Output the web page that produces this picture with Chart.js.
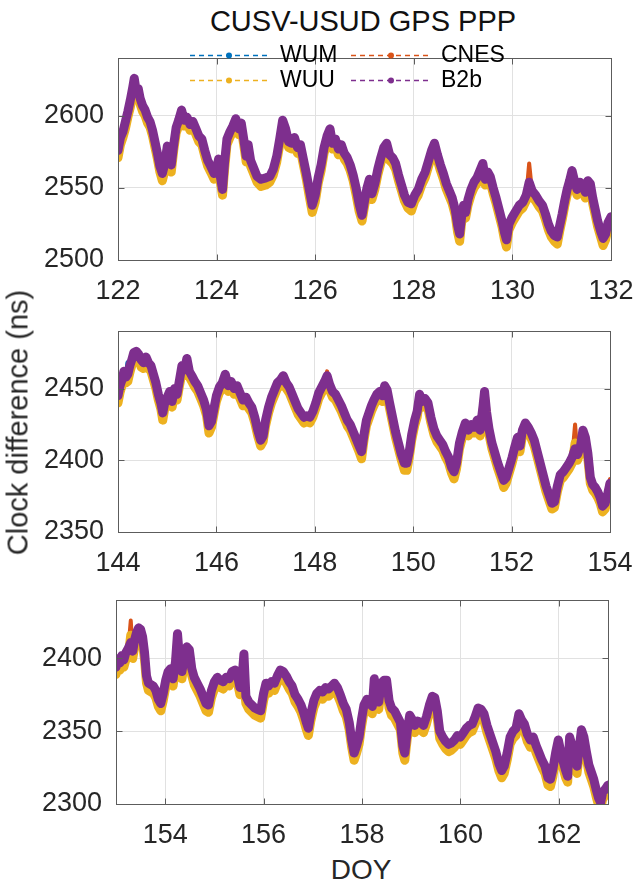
<!DOCTYPE html>
<html><head><meta charset="utf-8">
<script src="https://cdn.jsdelivr.net/npm/chart.js@4.4.1/dist/chart.umd.min.js"></script>
<style>
html,body{margin:0;padding:0;background:#fff;}
#wrap{position:relative;width:633px;height:882px;overflow:hidden;background:#fff;font-family:"Liberation Sans",Arial,Helvetica,sans-serif;color:#1a1a1a;}
canvas{position:absolute;left:0;}
#title{position:absolute;left:113px;width:500px;top:7px;text-align:center;font-size:29px;line-height:29px;white-space:nowrap;color:#111;}
#xlab{position:absolute;left:261px;width:200px;top:856px;text-align:center;font-size:28px;line-height:28px;color:#262626;}
#ylab{position:absolute;width:320px;height:29px;line-height:29px;font-size:29px;text-align:center;white-space:nowrap;color:#262626;
 left:calc(18px - 160px);top:calc(422px - 14.5px);transform:rotate(-90deg);}
</style></head>
<body>
<div id="wrap">
<div id="title">CUSV-USUD GPS PPP</div>
<canvas id="c1"></canvas>
<canvas id="c2"></canvas>
<canvas id="c3"></canvas>
<div id="ylab">Clock difference (ns)</div>
<div id="xlab">DOY</div>
</div>
<script>
// ---------------- DATA ----------------
const seriesNames = ['WUM','CNES','WUU','B2b'];
const seriesColors = ['#0072BD','#D95319','#EDB120','#7E2F8E'];

// Panel 1 : DOY 122-132
const xTicks1 = [122,124,126,128,130,132];
const yTicks1 = [2500,2550,2600];
const doy1 = [122.00,122.05,122.10,122.15,122.20,122.25,122.30,122.33,122.37,122.41,
122.45,122.50,122.55,122.60,122.65,122.70,122.75,122.80,122.85,122.90,
122.95,123.00,123.04,123.08,123.13,123.18,123.23,123.29,123.34,123.40,
123.46,123.52,123.58,123.64,123.70,123.76,123.82,123.88,123.95,124.00,
124.04,124.08,124.12,124.16,124.21,124.27,124.33,124.39,124.45,124.50,
124.55,124.60,124.64,124.69,124.75,124.82,124.90,125.00,125.08,125.15,
125.22,125.28,125.34,125.40,125.46,125.52,125.58,125.64,125.70,125.76,
125.82,125.88,125.94,126.00,126.06,126.12,126.18,126.24,126.30,126.35,
126.41,126.47,126.53,126.59,126.65,126.71,126.77,126.83,126.89,126.95,
127.00,127.05,127.10,127.15,127.21,127.27,127.33,127.39,127.45,127.51,
127.57,127.63,127.69,127.75,127.81,127.88,127.95,128.02,128.09,128.16,
128.23,128.30,128.36,128.42,128.48,128.54,128.60,128.66,128.72,128.78,
128.84,128.89,128.93,128.97,129.01,129.05,129.10,129.16,129.22,129.28,
129.34,129.40,129.45,129.50,129.55,129.61,129.67,129.73,129.79,129.84,
129.88,129.93,130.00,130.07,130.14,130.21,130.28,130.34,130.40,130.47,
130.54,130.61,130.67,130.73,130.79,130.85,130.91,130.96,131.01,131.06,
131.11,131.16,131.21,131.26,131.31,131.37,131.43,131.48,131.53,131.58,
131.63,131.68,131.73,131.79,131.84,131.89,131.94,132.00];
const b2b1 = [2576,2585,2589,2596,2603,2611,2620,2626,2617,2619,
2612,2607,2604,2599,2596,2590,2582,2574,2565,2560,
2567,2579,2571,2566,2580,2592,2597,2604,2597,2599,
2594,2596,2591,2586,2584,2576,2569,2565,2560,2563,
2570,2557,2549,2567,2584,2589,2593,2598,2591,2595,
2584,2572,2580,2569,2564,2558,2556,2557,2558,2563,
2572,2584,2597,2591,2582,2581,2585,2578,2580,2570,
2560,2549,2538,2545,2557,2566,2578,2586,2591,2581,
2584,2577,2580,2574,2571,2566,2559,2550,2539,2531,
2541,2550,2556,2546,2553,2563,2571,2578,2581,2573,
2571,2567,2559,2552,2545,2540,2539,2545,2549,2556,
2561,2569,2576,2581,2573,2566,2560,2553,2548,2543,
2535,2524,2518,2530,2538,2533,2542,2549,2554,2557,
2562,2567,2556,2561,2558,2550,2543,2535,2527,2519,
2514,2525,2530,2534,2538,2540,2545,2554,2548,2545,
2541,2538,2532,2525,2520,2517,2516,2524,2532,2541,
2549,2555,2562,2555,2549,2554,2551,2547,2555,2553,
2543,2535,2527,2520,2515,2518,2526,2530];
const wuu1 = [2571,2580,2585,2591,2599,2606,2615,2620,2612,2614,
2608,2603,2600,2595,2592,2586,2578,2570,2561,2555,
2562,2575,2567,2561,2576,2588,2593,2599,2593,2595,
2590,2592,2587,2582,2580,2572,2565,2561,2556,2558,
2565,2553,2545,2562,2580,2585,2589,2593,2587,2591,
2580,2568,2576,2565,2560,2554,2551,2552,2554,2559,
2568,2580,2592,2587,2578,2577,2581,2574,2576,2566,
2556,2544,2533,2540,2553,2562,2574,2582,2587,2577,
2580,2573,2576,2570,2567,2562,2555,2545,2534,2527,
2537,2546,2552,2542,2549,2559,2567,2574,2577,2569,
2567,2563,2555,2548,2541,2536,2534,2541,2545,2552,
2557,2565,2572,2577,2569,2562,2556,2549,2544,2539,
2531,2519,2513,2526,2534,2529,2538,2545,2550,2553,
2558,2563,2552,2557,2554,2546,2539,2531,2523,2514,
2509,2521,2526,2530,2534,2536,2541,2550,2544,2541,
2537,2534,2528,2521,2516,2513,2511,2520,2528,2537,
2545,2551,2558,2551,2545,2550,2547,2543,2551,2549,
2539,2531,2523,2516,2510,2514,2522,2526];
const wum1 = [2574,2583,2587,2594,2601,2609,2618,2624,2615,2617,
2610,2605,2602,2597,2594,2588,2580,2572,2563,2558,
2565,2577,2569,2564,2578,2590,2595,2602,2595,2597,
2592,2594,2589,2584,2582,2574,2567,2563,2558,2561,
2568,2555,2547,2565,2582,2587,2591,2596,2589,2593,
2582,2570,2578,2567,2562,2556,2554,2555,2556,2561,
2570,2582,2595,2589,2580,2579,2583,2576,2578,2568,
2558,2547,2536,2543,2555,2564,2576,2584,2589,2579,
2582,2575,2578,2572,2569,2564,2557,2548,2537,2529,
2539,2548,2554,2544,2551,2561,2569,2576,2579,2571,
2569,2565,2557,2550,2543,2538,2537,2543,2547,2554,
2559,2567,2574,2579,2571,2564,2558,2551,2546,2541,
2533,2522,2516,2528,2536,2531,2540,2547,2552,2555,
2560,2565,2554,2559,2556,2548,2541,2533,2525,2517,
2512,2523,2528,2532,2536,2538,2543,2552,2546,2543,
2539,2536,2530,2523,2518,2515,2514,2522,2530,2539,
2547,2553,2560,2553,2547,2552,2549,2545,2553,2551,
2541,2533,2525,2518,2513,2516,2524,2528];
const cnes1 = [2575,2584,2588,2595,2602,2610,2619,2625,2616,2618,
2611,2606,2603,2598,2595,2589,2581,2573,2564,2559,
2566,2578,2570,2565,2579,2591,2596,2603,2596,2598,
2593,2595,2590,2585,2583,2575,2568,2564,2559,2562,
2569,2556,2548,2566,2583,2588,2592,2597,2590,2594,
2583,2571,2579,2568,2563,2557,2555,2556,2557,2562,
2571,2583,2596,2590,2581,2580,2584,2577,2579,2569,
2559,2548,2537,2544,2556,2565,2577,2585,2590,2580,
2583,2576,2579,2573,2570,2565,2558,2549,2538,2530,
2540,2549,2555,2545,2552,2562,2570,2577,2580,2572,
2570,2566,2558,2551,2544,2539,2538,2544,2548,2555,
2560,2568,2575,2580,2572,2565,2559,2552,2547,2542,
2534,2523,2517,2529,2537,2532,2541,2548,2553,2556,
2561,2566,2555,2560,2557,2549,2542,2534,2526,2518,
2513,2524,2529,2533,2537,2539,2544,2567,2547,2544,
2540,2537,2531,2524,2519,2516,2515,2523,2531,2540,
2548,2554,2561,2554,2548,2553,2550,2546,2554,2552,
2542,2534,2526,2519,2514,2517,2525,2529];

// Panel 2 : DOY 144-154
const xTicks2 = [144,146,148,150,152,154];
const yTicks2 = [2350,2400,2450];
const doy2 = [144.00,144.04,144.08,144.12,144.16,144.20,144.24,144.28,144.32,144.37,
144.42,144.47,144.52,144.57,144.62,144.67,144.72,144.77,144.82,144.87,
144.91,144.95,145.00,145.05,145.10,145.15,145.20,145.25,145.30,145.35,
145.40,145.45,145.50,145.56,145.62,145.68,145.74,145.80,145.85,145.90,
145.95,146.00,146.06,146.12,146.18,146.24,146.30,146.36,146.42,146.48,
146.54,146.60,146.66,146.72,146.78,146.84,146.90,146.95,147.00,147.06,
147.12,147.18,147.24,147.30,147.36,147.42,147.48,147.54,147.60,147.66,
147.72,147.78,147.84,147.90,147.96,148.02,148.08,148.14,148.20,148.25,
148.30,148.36,148.42,148.48,148.54,148.60,148.66,148.72,148.78,148.84,
148.90,148.95,149.00,149.05,149.10,149.15,149.20,149.26,149.32,149.37,
149.42,149.47,149.52,149.58,149.64,149.70,149.76,149.82,149.87,149.92,
149.97,150.03,150.08,150.13,150.18,150.24,150.30,150.36,150.42,150.48,
150.54,150.60,150.66,150.72,150.78,150.83,150.88,150.94,151.00,151.06,
151.12,151.18,151.24,151.30,151.36,151.42,151.45,151.49,151.54,151.60,
151.66,151.72,151.78,151.84,151.89,151.95,152.01,152.07,152.12,152.17,
152.22,152.28,152.34,152.40,152.46,152.52,152.58,152.64,152.70,152.76,
152.82,152.87,152.93,152.99,153.05,153.11,153.17,153.23,153.29,153.34,
153.40,153.45,153.50,153.55,153.60,153.65,153.70,153.75,153.80,153.85,
153.90,153.95,154.00];
const b2b2 = [2445,2452,2456,2462,2458,2460,2466,2470,2475,2476,
2474,2470,2468,2472,2468,2466,2460,2454,2446,2440,
2433,2440,2444,2448,2441,2450,2446,2456,2466,2463,
2471,2462,2459,2455,2452,2447,2442,2435,2424,2427,
2436,2445,2451,2454,2460,2452,2455,2450,2452,2447,
2442,2444,2440,2437,2430,2421,2414,2417,2428,2437,
2444,2449,2454,2456,2459,2454,2451,2446,2441,2436,
2433,2430,2431,2430,2434,2440,2447,2451,2455,2459,
2453,2448,2446,2442,2438,2433,2428,2425,2420,2415,
2410,2406,2418,2428,2433,2438,2442,2446,2448,2445,
2452,2449,2440,2430,2420,2412,2404,2398,2398,2406,
2418,2428,2434,2446,2441,2443,2440,2430,2422,2417,
2414,2411,2406,2402,2395,2392,2398,2412,2420,2426,
2421,2425,2423,2428,2421,2438,2448,2434,2422,2412,
2405,2398,2392,2386,2388,2395,2402,2410,2416,2410,
2421,2426,2423,2419,2414,2406,2398,2390,2382,2376,
2370,2371,2382,2390,2392,2395,2398,2402,2408,2404,
2410,2421,2416,2405,2388,2383,2381,2378,2374,2368,
2370,2376,2384];
const wuu2 = [2440,2447,2452,2457,2454,2455,2461,2466,2470,2471,
2470,2465,2464,2467,2464,2462,2456,2450,2442,2436,
2428,2436,2440,2444,2437,2446,2442,2452,2461,2459,
2467,2458,2455,2451,2448,2443,2438,2431,2419,2423,
2432,2441,2447,2450,2456,2448,2451,2446,2448,2443,
2438,2440,2436,2433,2426,2417,2410,2413,2424,2433,
2440,2445,2450,2452,2455,2450,2447,2442,2437,2432,
2429,2426,2427,2426,2430,2436,2443,2447,2451,2455,
2449,2444,2442,2438,2434,2429,2424,2421,2416,2411,
2406,2401,2414,2424,2429,2434,2438,2442,2444,2441,
2448,2445,2436,2426,2416,2408,2400,2393,2393,2402,
2414,2424,2430,2442,2437,2439,2436,2426,2418,2413,
2410,2407,2402,2398,2391,2387,2394,2408,2416,2422,
2417,2421,2419,2424,2417,2434,2444,2430,2418,2408,
2401,2394,2388,2381,2384,2391,2398,2406,2412,2406,
2417,2422,2419,2415,2410,2402,2394,2386,2378,2372,
2366,2367,2378,2386,2388,2391,2394,2398,2412,2400,
2406,2417,2412,2401,2384,2379,2377,2374,2370,2364,
2366,2372,2383];
const wum2 = [2443,2450,2454,2460,2456,2468,2464,2468,2473,2474,
2472,2468,2466,2470,2466,2464,2458,2452,2444,2438,
2431,2438,2442,2446,2439,2448,2444,2454,2464,2461,
2469,2460,2457,2453,2450,2445,2440,2433,2422,2425,
2434,2443,2449,2452,2458,2450,2453,2448,2450,2445,
2440,2442,2438,2435,2428,2419,2412,2415,2426,2435,
2442,2447,2452,2454,2457,2452,2449,2444,2439,2434,
2431,2428,2429,2428,2432,2438,2445,2449,2453,2457,
2451,2446,2444,2440,2436,2431,2426,2423,2418,2413,
2408,2404,2416,2426,2431,2436,2440,2444,2446,2443,
2450,2447,2438,2428,2418,2410,2402,2396,2396,2404,
2416,2426,2432,2444,2439,2441,2438,2428,2420,2415,
2412,2409,2404,2400,2393,2390,2396,2410,2418,2424,
2419,2423,2421,2426,2419,2436,2446,2432,2420,2410,
2403,2396,2390,2384,2386,2393,2400,2408,2414,2408,
2419,2424,2421,2417,2412,2404,2396,2388,2380,2374,
2368,2369,2380,2388,2390,2393,2396,2400,2406,2402,
2408,2419,2414,2403,2386,2381,2379,2376,2372,2366,
2368,2374,2382];
const cnes2 = [2444,2451,2455,2461,2457,2465,2465,2469,2474,2475,
2473,2469,2467,2471,2467,2465,2459,2453,2445,2439,
2432,2439,2443,2447,2440,2449,2445,2455,2465,2462,
2470,2461,2458,2454,2451,2446,2441,2434,2423,2426,
2435,2444,2450,2453,2459,2451,2454,2449,2451,2446,
2441,2443,2439,2436,2429,2420,2413,2416,2427,2436,
2443,2448,2453,2455,2458,2453,2450,2445,2440,2435,
2432,2429,2430,2429,2433,2439,2446,2450,2456,2462,
2452,2447,2445,2441,2437,2432,2427,2424,2419,2414,
2409,2405,2417,2427,2432,2437,2441,2445,2447,2444,
2451,2448,2439,2429,2419,2411,2403,2397,2397,2405,
2417,2427,2433,2445,2440,2442,2439,2429,2421,2416,
2413,2410,2405,2401,2394,2391,2397,2411,2419,2425,
2420,2424,2422,2427,2420,2437,2447,2433,2421,2411,
2404,2397,2391,2385,2387,2394,2401,2409,2415,2409,
2420,2425,2422,2418,2413,2405,2397,2389,2381,2375,
2369,2370,2381,2389,2391,2394,2397,2401,2425,2403,
2409,2420,2415,2404,2387,2382,2380,2377,2373,2367,
2369,2377,2387];

// Panel 3 : DOY 153-163
const xTicks3 = [154,156,158,160,162];
const yTicks3 = [2300,2350,2400];
const doy3 = [153.00,153.04,153.08,153.12,153.16,153.20,153.25,153.30,153.34,153.38,
153.42,153.46,153.50,153.54,153.58,153.62,153.66,153.71,153.76,153.81,
153.86,153.91,153.96,154.01,154.06,154.11,154.16,154.21,154.25,154.29,
154.34,154.39,154.44,154.49,154.54,154.59,154.65,154.71,154.77,154.83,
154.88,154.94,155.00,155.06,155.12,155.18,155.24,155.30,155.36,155.42,
155.47,155.52,155.56,155.60,155.64,155.70,155.76,155.82,155.88,155.94,
156.00,156.05,156.10,156.16,156.22,156.28,156.34,156.40,156.46,156.52,
156.58,156.64,156.70,156.76,156.82,156.87,156.91,156.96,157.02,157.08,
157.14,157.20,157.26,157.32,157.38,157.44,157.50,157.56,157.62,157.68,
157.74,157.79,157.84,157.89,157.94,157.99,158.04,158.10,158.16,158.21,
158.25,158.29,158.34,158.39,158.45,158.50,158.55,158.60,158.66,158.72,
158.78,158.83,158.87,158.92,158.97,159.02,159.07,159.13,159.19,159.25,
159.31,159.37,159.43,159.48,159.53,159.58,159.64,159.70,159.76,159.82,
159.88,159.94,160.00,160.06,160.12,160.18,160.24,160.30,160.36,160.42,
160.48,160.54,160.60,160.66,160.72,160.78,160.84,160.89,160.95,161.01,
161.07,161.13,161.19,161.24,161.30,161.36,161.42,161.48,161.54,161.60,
161.66,161.72,161.78,161.83,161.88,161.94,161.99,162.04,162.09,162.14,
162.18,162.22,162.27,162.32,162.37,162.42,162.46,162.51,162.56,162.61,
162.66,162.71,162.76,162.81,162.85,162.89,162.94,163.00];
const b2b3 = [2394,2400,2397,2402,2399,2404,2407,2411,2405,2413,
2418,2421,2420,2415,2404,2388,2383,2382,2381,2378,
2372,2369,2376,2385,2391,2393,2386,2398,2417,2400,
2391,2401,2408,2406,2393,2387,2383,2379,2374,2369,
2368,2378,2384,2387,2385,2384,2387,2386,2391,2392,
2388,2380,2386,2403,2374,2370,2368,2366,2365,2364,
2376,2383,2381,2384,2383,2388,2392,2391,2388,2384,
2381,2375,2372,2368,2362,2356,2352,2362,2371,2376,
2378,2377,2380,2379,2381,2383,2380,2375,2369,2365,
2356,2344,2335,2340,2346,2358,2368,2372,2369,2367,
2386,2376,2370,2383,2385,2385,2371,2366,2364,2360,
2356,2340,2335,2350,2361,2358,2354,2357,2356,2354,
2360,2368,2374,2373,2364,2350,2346,2343,2341,2342,
2344,2347,2346,2349,2352,2354,2355,2360,2366,2365,
2362,2354,2348,2342,2336,2328,2323,2326,2335,2346,
2350,2352,2362,2358,2355,2348,2344,2346,2340,2335,
2330,2326,2318,2317,2324,2336,2344,2336,2329,2323,
2319,2346,2340,2333,2326,2340,2351,2346,2336,2327,
2322,2317,2310,2304,2301,2308,2310,2313];
const wuu3 = [2389,2395,2392,2397,2394,2399,2402,2416,2400,2408,
2413,2416,2415,2410,2399,2383,2378,2377,2376,2373,
2367,2364,2371,2380,2386,2388,2381,2393,2410,2395,
2386,2396,2403,2401,2388,2382,2378,2374,2369,2364,
2363,2373,2379,2382,2380,2379,2382,2381,2386,2387,
2383,2375,2381,2382,2369,2365,2363,2361,2360,2359,
2371,2378,2376,2379,2378,2383,2387,2386,2383,2379,
2376,2370,2367,2363,2357,2351,2347,2357,2366,2371,
2373,2372,2375,2374,2376,2378,2375,2370,2364,2360,
2351,2339,2330,2335,2341,2353,2363,2367,2364,2362,
2379,2371,2365,2378,2380,2380,2366,2361,2359,2355,
2351,2335,2330,2345,2356,2353,2349,2352,2351,2349,
2355,2363,2369,2368,2359,2345,2341,2338,2336,2337,
2339,2342,2341,2344,2347,2349,2350,2355,2361,2360,
2357,2349,2343,2337,2331,2323,2318,2321,2330,2341,
2345,2347,2357,2353,2350,2343,2339,2341,2335,2330,
2325,2321,2313,2312,2319,2331,2339,2331,2324,2318,
2315,2341,2335,2328,2321,2335,2346,2341,2331,2322,
2317,2312,2305,2299,2297,2303,2306,2309];
const wum3 = [2392,2398,2395,2400,2397,2402,2405,2409,2403,2411,
2416,2419,2418,2413,2402,2386,2381,2380,2379,2376,
2370,2367,2374,2383,2389,2391,2384,2396,2415,2398,
2389,2399,2406,2404,2391,2385,2381,2377,2372,2367,
2366,2376,2382,2385,2383,2382,2385,2384,2389,2390,
2386,2378,2384,2384,2372,2368,2366,2364,2363,2362,
2374,2381,2379,2382,2381,2386,2390,2389,2386,2382,
2379,2373,2370,2366,2360,2354,2350,2360,2369,2374,
2376,2375,2378,2377,2379,2381,2378,2373,2367,2363,
2354,2342,2333,2338,2344,2356,2366,2370,2367,2365,
2384,2374,2368,2381,2383,2383,2369,2364,2362,2358,
2354,2338,2333,2348,2359,2356,2352,2355,2354,2352,
2358,2366,2372,2371,2362,2348,2344,2341,2339,2340,
2342,2345,2344,2347,2350,2352,2353,2358,2364,2363,
2360,2352,2346,2340,2334,2326,2321,2324,2333,2344,
2348,2350,2360,2356,2353,2346,2342,2344,2338,2333,
2328,2324,2316,2315,2322,2334,2342,2334,2327,2321,
2317,2344,2338,2331,2324,2338,2349,2344,2334,2325,
2320,2315,2308,2302,2299,2306,2308,2311];
const cnes3 = [2393,2399,2396,2401,2398,2403,2406,2426,2404,2412,
2417,2420,2419,2414,2403,2387,2382,2381,2380,2377,
2371,2368,2375,2384,2390,2392,2385,2397,2416,2399,
2390,2400,2407,2405,2392,2386,2382,2378,2373,2368,
2367,2377,2383,2386,2384,2383,2386,2385,2390,2391,
2387,2379,2385,2385,2373,2369,2367,2365,2364,2363,
2375,2382,2380,2383,2382,2387,2391,2390,2387,2383,
2380,2374,2371,2367,2361,2355,2351,2361,2370,2375,
2377,2376,2379,2378,2380,2382,2379,2374,2368,2364,
2355,2343,2334,2339,2345,2357,2367,2371,2368,2366,
2385,2375,2369,2382,2384,2384,2370,2365,2363,2359,
2355,2339,2334,2349,2360,2357,2353,2356,2355,2353,
2359,2367,2373,2372,2363,2349,2345,2342,2340,2341,
2343,2346,2345,2348,2351,2353,2354,2359,2365,2364,
2361,2353,2347,2341,2335,2327,2320,2325,2334,2345,
2349,2351,2361,2357,2354,2347,2343,2345,2339,2334,
2329,2325,2317,2316,2323,2335,2343,2335,2328,2322,
2318,2345,2339,2332,2322,2339,2350,2345,2335,2326,
2321,2316,2309,2303,2300,2307,2309,2312];

// ---------------- CHARTS ----------------
Chart.defaults.font.family = "'Liberation Sans', Arial, Helvetica, sans-serif";
const CW = 680; // canvas wider than the page, clipped by #wrap

const boxPlugin = {
  id: 'axbox',
  afterDraw(chart) {
    const {ctx, chartArea: a, scales} = chart;
    ctx.save();
    ctx.strokeStyle = '#5c5c5c';
    ctx.lineWidth = 1;
    const l = Math.round(a.left) + 0.5, r = Math.round(a.right) + 0.5;
    const t = Math.round(a.top) + 0.5, b = Math.round(a.bottom) + 0.5;
    ctx.strokeRect(l, t, r - l, b - t);
    ctx.beginPath();
    scales.x.ticks.forEach(tk => {
      const px = Math.round(scales.x.getPixelForValue(tk.value)) + 0.5;
      ctx.moveTo(px, b); ctx.lineTo(px, b - 6);
      ctx.moveTo(px, t); ctx.lineTo(px, t + 6);
    });
    scales.y.ticks.forEach(tk => {
      const py = Math.round(scales.y.getPixelForValue(tk.value)) + 0.5;
      ctx.moveTo(l, py); ctx.lineTo(l + 6, py);
      ctx.moveTo(r, py); ctx.lineTo(r - 6, py);
    });
    ctx.stroke();
    ctx.restore();
  }
};

const legendPlugin = {
  id: 'inlegend',
  afterDraw(chart) {
    const ctx = chart.ctx;
    const items = [
      {i: 0, x0: 190, x1: 268, tx: 280, y: 27},
      {i: 1, x0: 351, x1: 431, tx: 441, y: 27},
      {i: 2, x0: 190, x1: 268, tx: 280, y: 52},
      {i: 3, x0: 351, x1: 431, tx: 441, y: 52}
    ];
    ctx.save();
    items.forEach(it => {
      const col = seriesColors[it.i];
      ctx.strokeStyle = col; ctx.fillStyle = col;
      ctx.lineWidth = 1.6;
      ctx.setLineDash([5, 4]);
      ctx.beginPath(); ctx.moveTo(it.x0, it.y + 0.5); ctx.lineTo(it.x1, it.y + 0.5); ctx.stroke();
      ctx.setLineDash([]);
      ctx.beginPath(); ctx.arc((it.x0 + it.x1) / 2, it.y + 0.5, 3, 0, Math.PI * 2); ctx.fill();
      ctx.fillStyle = '#000';
      ctx.font = "23px 'Liberation Sans', Arial, sans-serif";
      ctx.textBaseline = 'middle';
      ctx.textAlign = 'left';
      ctx.fillText(seriesNames[it.i], it.tx, it.y + 1);
    });
    ctx.restore();
  }
};

function toPts(xs, ys) { return xs.map((x, i) => ({x: x, y: ys[i]})); }

function makePanel(id, T, B, L, R, xs, sets, xr, yr, xt, yt, legend) {
  const cv = document.getElementById(id);
  const padTop = 12, xAxisH = 48;
  const H = (B - T) + padTop + xAxisH;
  cv.width = CW; cv.height = H;
  cv.style.width = CW + 'px'; cv.style.height = H + 'px';
  cv.style.top = (T - padTop) + 'px';
  const widths = [5, 4, 9, 9];
  const orders = [3, 2, 1, 0];
  const datasets = sets.map((ys, k) => ({
    label: seriesNames[k],
    data: toPts(xs, ys),
    borderColor: seriesColors[k],
    backgroundColor: seriesColors[k],
    borderWidth: widths[k],
    pointRadius: 0,
    tension: 0,
    borderJoinStyle: 'round',
    borderCapStyle: 'round',
    order: orders[k],
    fill: false
  }));
  const tickFont = {size: 27, family: "'Liberation Sans', Arial, sans-serif"};
  return new Chart(cv, {
    type: 'line',
    data: {datasets},
    options: {
      responsive: false, animation: false, events: [],
      devicePixelRatio: 1,
      layout: {padding: {top: padTop, left: 0, right: CW - R, bottom: 0}},
      plugins: {legend: {display: false}, tooltip: {enabled: false}},
      scales: {
        x: {
          type: 'linear', min: xr[0], max: xr[1],
          afterBuildTicks: s => { s.ticks = xt.map(v => ({value: v})); },
          afterFit: s => { s.height = xAxisH; },
          grid: {color: '#e1e1e1', drawTicks: false, lineWidth: 1},
          border: {display: false},
          ticks: {font: tickFont, color: '#262626', padding: 15, maxRotation: 0, autoSkip: false,
                  callback: v => String(v)}
        },
        y: {
          type: 'linear', min: yr[0], max: yr[1],
          afterBuildTicks: s => { s.ticks = yt.map(v => ({value: v})); },
          afterFit: s => { s.width = L; },
          grid: {color: '#e1e1e1', drawTicks: false, lineWidth: 1},
          border: {display: false},
          ticks: {font: tickFont, color: '#262626', padding: 14, callback: v => String(v)}
        }
      }
    },
    plugins: legend ? [boxPlugin, legendPlugin] : [boxPlugin]
  });
}

makePanel('c1', 40, 260, 118, 611, doy1, [wum1, cnes1, wuu1, b2b1], [122, 132], [2500, 2640], xTicks1, yTicks1, true);
makePanel('c2', 313, 532, 118, 610, doy2, [wum2, cnes2, wuu2, b2b2], [144, 154], [2350, 2490], xTicks2, yTicks2, false);
makePanel('c3', 582, 804, 116, 608, doy3, [wum3, cnes3, wuu3, b2b3], [153, 163], [2300, 2440], xTicks3, yTicks3, false);
</script>
</body></html>
